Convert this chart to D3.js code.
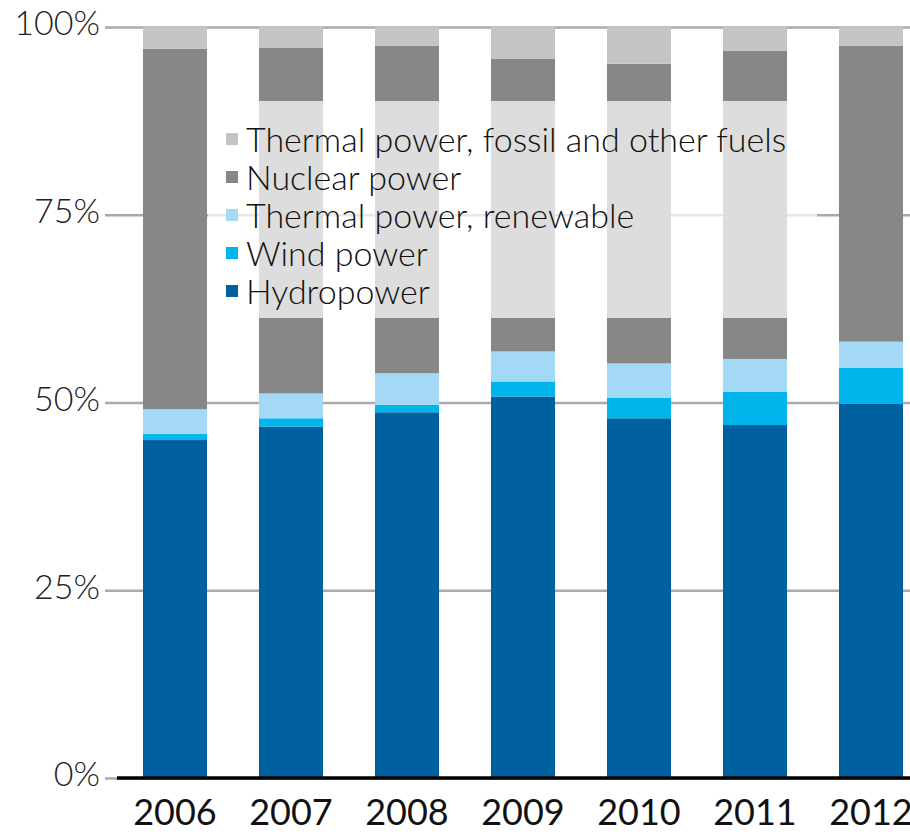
<!DOCTYPE html>
<html>
<head>
<meta charset="utf-8">
<script src="https://cdn.jsdelivr.net/npm/d3@7"></script>
<style>
  body { margin: 0; background: #fff; }
  svg { display: block; }
</style>
</head>
<body>
<svg id="chart" width="910" height="834"></svg>
<script>
const years = ['2006', '2007', '2008', '2009', '2010', '2011', '2012']

// shares in % of total electricity production
const hydro = [45.0, 46.8, 48.7, 50.8, 47.9, 47.0, 49.8]
const wind = [0.8, 1.1, 1.0, 2.0, 2.7, 4.4, 4.8]
const thermalRenewable = [3.3, 3.3, 4.2, 4.0, 4.6, 4.4, 3.5]
const nuclear = [48.0, 46.0, 43.6, 39.0, 39.9, 41.0, 39.4]
const thermalFossil = [2.9, 2.8, 2.5, 4.2, 4.9, 3.2, 2.5]

const yTicks = [0, 25, 50, 75, 100]

const seriesNames = ['Hydropower', 'Wind power', 'Thermal power, renewable', 'Nuclear power', 'Thermal power, fossil and other fuels']
const seriesValues = [hydro, wind, thermalRenewable, nuclear, thermalFossil]
const colors = ['#0060a0', '#00b5eb', '#a3d9f5', '#878787', '#c4c4c4']

const width = 910
const svg = d3.select('#chart')

const rows = years.map((y, i) => {
  const r = { year: y }
  seriesNames.forEach((n, k) => { r[n] = seriesValues[k][i] })
  return r
})
const stack = d3.stack().keys(seriesNames)(rows)

const x = d3.scaleBand()
  .domain(years)
  .range([117, 929])
  .paddingInner(0.448)
  .paddingOuter(0.224)

const y = d3.scaleLinear()
  .domain([0, 100])
  .range([778, 27])

// grid
const yAxis = d3.axisLeft(y)
  .tickValues(yTicks)
  .tickSize(-(width - 105))
  .tickFormat(d => d + '%')

const gy = svg.append('g')
  .attr('transform', 'translate(105,0)')
  .call(yAxis)
gy.select('.domain').remove()
gy.selectAll('.tick line')
  .style('stroke', '#aaaaaa')
  .style('stroke-width', 2.5)
gy.selectAll('.tick text')
  .attr('x', -5)
  .attr('dy', '0.32em')
  .attr('y', -3)
  .style('font-family', 'Lato')
  .style('font-weight', 300)
  .style('font-size', '34px')
  .style('fill', '#222')

// bars
svg.append('g')
  .selectAll('g')
  .data(stack)
  .join('g')
  .attr('fill', (d, i) => colors[i])
  .selectAll('rect')
  .data(d => d)
  .join('rect')
  .attr('x', d => x(d.data.year))
  .attr('width', x.bandwidth())
  .attr('y', d => y(d[1]))
  .attr('height', d => y(d[0]) - y(d[1]))

// legend box: translucent white over the bars
svg.append('rect')
  .attr('x', 208)
  .attr('y', 101)
  .attr('width', 817 - 208)
  .attr('height', 318 - 101)
  .attr('fill', '#fff')
  .attr('fill-opacity', 0.715)

const legend = svg.append('g')
  .attr('transform', 'translate(226,152)')
const items = legend.selectAll('g')
  .data(seriesNames.map((n, i) => ({ n, c: colors[i] })).reverse())
  .join('g')
  .attr('transform', (d, i) => `translate(0,${i * 38})`)
items.append('rect')
  .attr('x', 0)
  .attr('y', -19)
  .attr('width', 12)
  .attr('height', 12)
  .attr('fill', d => d.c)
items.append('text')
  .attr('x', 20)
  .attr('y', 0)
  .text(d => d.n)
  .style('font-family', 'Lato')
  .style('font-weight', 300)
  .style('font-size', '34px')
  .style('fill', '#111')

// x axis
const xAxis = d3.axisBottom(x).tickSize(0).tickSizeOuter(0)
const gx = svg.append('g')
  .attr('transform', 'translate(0,778)')
  .call(xAxis)
gx.select('.domain').remove()
gx.append('line')
  .attr('x1', 117)
  .attr('x2', width)
  .attr('stroke', '#000')
  .attr('stroke-width', 3.5)
gx.selectAll('.tick text')
  .attr('y', 47)
  .attr('dy', 0)
  .style('font-family', 'Lato')
  .style('font-size', '36px')
  .style('fill', '#111')
</script>
</body>
</html>
